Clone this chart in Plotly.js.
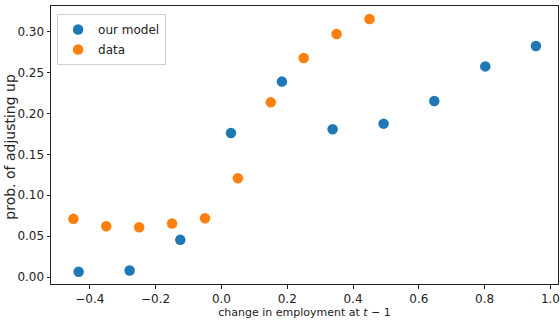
<!DOCTYPE html>
<html>
<head>
<meta charset="utf-8">
<script src="https://cdn.plot.ly/plotly-3.0.1.min.js"></script>
<style>html,body{margin:0;padding:0;background:#fff;}#chart{width:560px;height:321px;}</style>
</head>
<body>
<div id="chart"></div>
<script>
const modelX = [-0.434, -0.279, -0.125, 0.029, 0.184, 0.338, 0.493, 0.647, 0.802, 0.956];
const modelY = [0.0066, 0.0082, 0.0456, 0.176, 0.2387, 0.1805, 0.1874, 0.2151, 0.2573, 0.2822];
const dataX = [-0.45, -0.35, -0.25, -0.15, -0.05, 0.05, 0.15, 0.25, 0.35, 0.45];
const dataY = [0.0712, 0.0622, 0.061, 0.0655, 0.072, 0.1207, 0.2134, 0.2676, 0.2968, 0.3151];
const xTicks = [-0.4, -0.2, 0.0, 0.2, 0.4, 0.6, 0.8, 1.0];
const xTickText = ['\u22120.4', '\u22120.2', '0.0', '0.2', '0.4', '0.6', '0.8', '1.0'];
const yTicks = [0.00, 0.05, 0.10, 0.15, 0.20, 0.25, 0.30];
const yTickText = ['0.00', '0.05', '0.10', '0.15', '0.20', '0.25', '0.30'];
const yTitle = 'prob. of adjusting up';

const font = 'DejaVu Sans, sans-serif';
const traces = [
  {x: modelX, y: modelY, mode: 'markers', type: 'scatter', name: 'our model', legendgroup: 'a',
   marker: {color: '#1f77b4', size: 10.5}},
  {x: dataX, y: dataY, mode: 'markers', type: 'scatter', name: 'data', legendgroup: 'b',
   marker: {color: '#ff7f0e', size: 10.5}}
];
const layout = {
  width: 560, height: 321,
  margin: {l: 51, r: 2, t: 6, b: 37},
  paper_bgcolor: '#fff', plot_bgcolor: '#fff',
  font: {family: font, size: 12, color: '#222'},
  showlegend: true,
  legend: {x: 0.012, y: 0.971, xanchor: 'left', yanchor: 'top', tracegroupgap: 1,
           bgcolor: 'rgba(255,255,255,0.9)', bordercolor: '#d0d0d0', borderwidth: 1,
           font: {family: font, size: 12, color: '#222'}},
  xaxis: {range: [-0.518, 1.023], tickvals: xTicks, ticktext: xTickText,
          showgrid: false, zeroline: false, showline: true, linecolor: '#222', linewidth: 1,
          mirror: true, ticks: 'outside', ticklen: 3.5, tickcolor: '#222',
          tickfont: {family: font, size: 12, color: '#222'},
          title: {text: 'change in employment at <i>t</i> \u2212 1', standoff: 2,
                  font: {family: font, size: 11, color: '#222'}}},
  yaxis: {range: [-0.0083, 0.331], tickvals: yTicks, ticktext: yTickText,
          showgrid: false, zeroline: false, showline: true, linecolor: '#222', linewidth: 1,
          mirror: true, ticks: 'outside', ticklen: 3.5, tickcolor: '#222',
          tickfont: {family: font, size: 12, color: '#222'}},
  annotations: [{text: yTitle, textangle: -90, xref: 'paper', yref: 'paper',
                 x: 0, y: 0.494, xanchor: 'center', yanchor: 'middle', xshift: -41,
                 showarrow: false, font: {family: font, size: 14, color: '#222'}}]
};
Plotly.newPlot('chart', traces, layout, {displayModeBar: false, staticPlot: true});
</script>
</body>
</html>
